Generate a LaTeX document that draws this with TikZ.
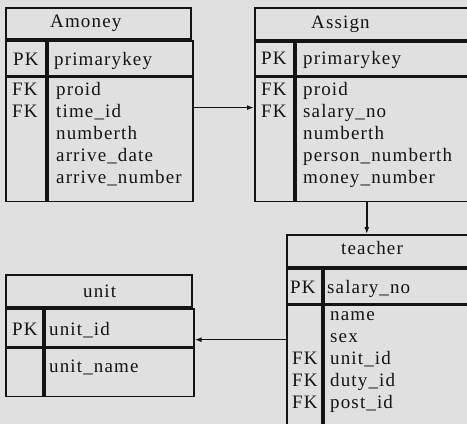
\documentclass[tikz,border=0pt]{standalone}
\usepackage{fontspec}
\setmainfont{Liberation Serif}[LetterSpace=6]
\usetikzlibrary{positioning, arrows.meta}
\tikzset{
cell/.style={draw, line width=1.8pt, anchor=north west, inner sep=0pt}, % one box of a table
txt/.style={anchor=base west, inner sep=0pt, font=\fontsize{19}{22}\selectfont}, % every text line
fk/.style={-{Latex[length=7pt,width=5pt]}, line width=1.4pt}, % link between two tables
}

\begin{document}
\begin{tikzpicture}[x=1pt, y=-1pt, color=black!92]
    \clip (0,0) rectangle (467,424);
    \fill[black!12] (0,0) rectangle (467,424);

    % table Amoney
    \node[cell, minimum width=185pt, minimum height=31pt] (amtitle) at (5,7) {};
    \node[cell, minimum width=40pt, minimum height=35pt] (ampk) at (amtitle.south west) {};
    \node[cell, minimum width=145pt, minimum height=35pt] (ampkn) at (ampk.north east) {};
    \node[cell, minimum width=40pt, minimum height=124pt] (amkf) at (ampk.south west) {};
    \node[cell, minimum width=145pt, minimum height=124pt] (amnf) at (amkf.north east) {};
    \node[txt] (amname) at (50,27) {Amoney};
    \node[txt] (amPK) at (13,65) {PK};
    \node[txt] (amprim) at (54,65) {primarykey};
    \foreach \k [count=\i] in {1,2}
        \node[txt] (amFK\i) at (12,{95+22*(\i-1)}) {FK};
    \foreach \t [count=\i] in {proid,time\_id,numberth,arrive\_date,arrive\_number}
        \node[txt] (amf\i) at (56,{95+22*(\i-1)}) {\t};

    % table Assign
    \node[cell, minimum width=260pt, minimum height=32pt] (astitle) at (254,7) {};
    \node[cell, minimum width=39pt, minimum height=34pt] (aspk) at (astitle.south west) {};
    \node[cell, minimum width=221pt, minimum height=34pt] (aspkn) at (aspk.north east) {};
    \node[cell, minimum width=39pt, minimum height=124pt] (askf) at (aspk.south west) {};
    \node[cell, minimum width=221pt, minimum height=124pt] (asnf) at (askf.north east) {};
    \node[txt] (asname) at (311,28) {Assign};
    \node[txt] (asPK) at (261,64) {PK};
    \node[txt] (asprim) at (303,64) {primarykey};
    \foreach \k [count=\i] in {1,2}
        \node[txt] (asFK\i) at (261,{95+22*(\i-1)}) {FK};
    \foreach \t [count=\i] in {proid,salary\_no,numberth,person\_numberth,money\_number}
        \node[txt] (asf\i) at (303,{95+22*(\i-1)}) {\t};

    % table unit
    \node[cell, minimum width=186pt, minimum height=32pt] (untitle) at (5,274) {};
    \node[cell, minimum width=37pt, minimum height=38pt] (unpk) at (untitle.south west) {};
    \node[cell, minimum width=149pt, minimum height=38pt] (unpkn) at (unpk.north east) {};
    \node[cell, minimum width=37pt, minimum height=48pt] (unkf) at (unpk.south west) {};
    \node[cell, minimum width=149pt, minimum height=48pt] (unnf) at (unkf.north east) {};
    \node[txt] (unname) at (83,297) {unit};
    \node[txt] (unPK) at (12,335) {PK};
    \node[txt] (unid) at (49,335) {unit\_id};
    \node[txt] (unf1) at (49,372) {unit\_name};

    % table teacher
    \node[cell, minimum width=220pt, minimum height=32pt] (tetitle) at (286,234) {};
    \node[cell, minimum width=35pt, minimum height=35pt] (tepk) at (tetitle.south west) {};
    \node[cell, minimum width=185pt, minimum height=35pt] (tepkn) at (tepk.north east) {};
    \node[cell, minimum width=35pt, minimum height=159pt] (tekf) at (tepk.south west) {};
    \node[cell, minimum width=185pt, minimum height=159pt] (tenf) at (tekf.north east) {};
    \node[txt] (tename) at (341,254) {teacher};
    \node[txt] (tePK) at (290,293) {PK};
    \node[txt] (tesal) at (327,293) {salary\_no};
    \foreach \k [count=\i] in {3,4,5}
        \node[txt] (teFK\i) at (292,{320+22*(\k-1)}) {FK};
    \foreach \t [count=\i] in {name,sex,unit\_id,duty\_id,post\_id}
        \node[txt] (tef\i) at (330,{320+22*(\i-1)}) {\t};

    % links
    \coordinate (asout) at ([xshift=72pt]asnf.south west);
    \coordinate (unin) at ([yshift=-12pt]unpkn.east);
    \draw[fk] ([yshift=-31pt]amnf.north east) -- ([yshift=-31pt]askf.north west);
    \draw[fk] (asout) -- (asout |- tetitle.north);
    \draw[fk] (tekf.west |- unin) -- (unin);
\end{tikzpicture}
\end{document}
